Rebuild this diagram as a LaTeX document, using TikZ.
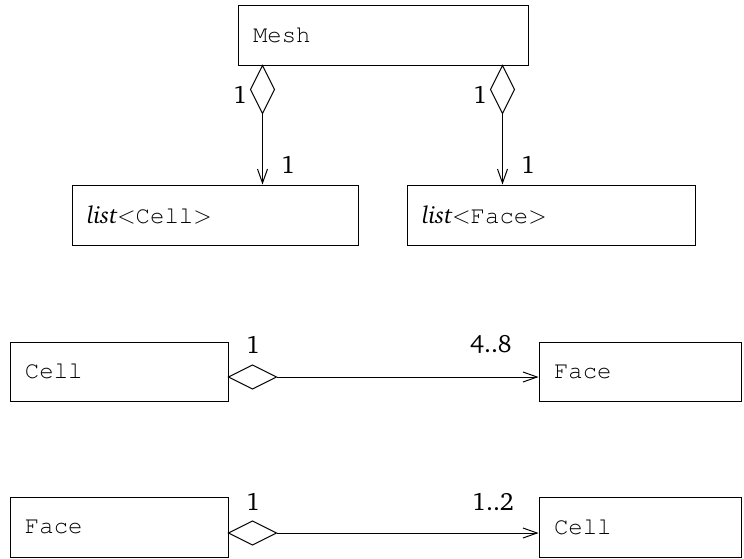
\documentclass[tikz,border=0pt]{standalone}
\usepackage[T1]{fontenc}
\usepackage{charter}
\usepackage{courier}
\usetikzlibrary{arrows.meta,calc}
\tikzset{
  umlbox/.style={draw, line width=0.5pt, inner xsep=7.5pt, inner ysep=0pt, align=left, font=\fontsize{12}{14}\selectfont},
  mult/.style={inner sep=0pt, font=\fontsize{12.5}{14}\selectfont},
  diam/.style={draw, line width=0.5pt, fill=white},
  assoc/.style={draw, line width=0.5pt, -{Straight Barb[length=7pt,width=5pt,line width=0.5pt]}}
}
\begin{document}
\begin{tikzpicture}[x=0.5pt,y=-0.5pt]
\useasboundingbox (0,0) rectangle (744,558);
% boxes
\node[umlbox, minimum height=30pt, text width=130pt] (mesh) at (383,35) {\texttt{Mesh}};
\node[umlbox, minimum height=30pt, text width=128pt] (lcell) at (215,215) {\textit{list}$<$\texttt{Cell}$>$};
\node[umlbox, minimum height=30pt, text width=129pt] (lface) at (551,215) {\textit{list}$<$\texttt{Face}$>$};
\node[umlbox, minimum height=29.5pt, text width=94pt] (cellA) at (119,371.5) {\texttt{Cell}};
\node[umlbox, minimum height=29.5pt, text width=86pt] (faceA) at (640,371.5) {\texttt{Face}};
\node[umlbox, minimum height=30pt, text width=94pt] (faceB) at (119,527) {\texttt{Face}};
\node[umlbox, minimum height=30pt, text width=86pt] (cellB) at (640,527) {\texttt{Cell}};
% connector anchor points
\coordinate (m1) at ([xshift=12.5pt]mesh.south west);
\coordinate (m2) at ([xshift=132.5pt]mesh.south west);
\coordinate (d1) at ($(m1)+(0,48)$);
\coordinate (d2) at ($(m2)+(0,48)$);
\coordinate (e1) at (d1 |- lcell.north);
\coordinate (e2) at (d2 |- lface.north);
\coordinate (c1) at ([yshift=-2.75pt]cellA.east);
\coordinate (c2) at ($(c1)+(48,0)$);
\coordinate (c3) at (c2 -| faceA.west);
\coordinate (f1) at ([yshift=-3pt]faceB.east);
\coordinate (f2) at ($(f1)+(48,0)$);
\coordinate (f3) at (f2 -| cellB.west);
% diamonds
\draw[diam] (m1) -- ++(12,24) -- (d1) -- ++(-12,-24) -- cycle;
\draw[diam] (m2) -- ++(12,24) -- (d2) -- ++(-12,-24) -- cycle;
\draw[diam] (c1) -- ++(24,-12) -- (c2) -- ++(-24,12) -- cycle;
\draw[diam] (f1) -- ++(24,-12) -- (f2) -- ++(-24,12) -- cycle;
% lines
\draw[assoc] (d1) -- (e1);
\draw[assoc] (d2) -- (e2);
\draw[assoc] (c2) -- (c3);
\draw[assoc] (f2) -- (f3);
% multiplicities
\node[mult] (n1) at (240,95) {1};
\node[mult] (n2) at (480,95) {1};
\node[mult] (n3) at (288,165) {1};
\node[mult] (n4) at (528,165) {1};
\node[mult] (n5) at (253,345) {1};
\node[mult] (n6) at (491,345) {4..8};
\node[mult] (n7) at (253,502) {1};
\node[mult] (n8) at (493,502) {1..2};
\end{tikzpicture}
\end{document}
